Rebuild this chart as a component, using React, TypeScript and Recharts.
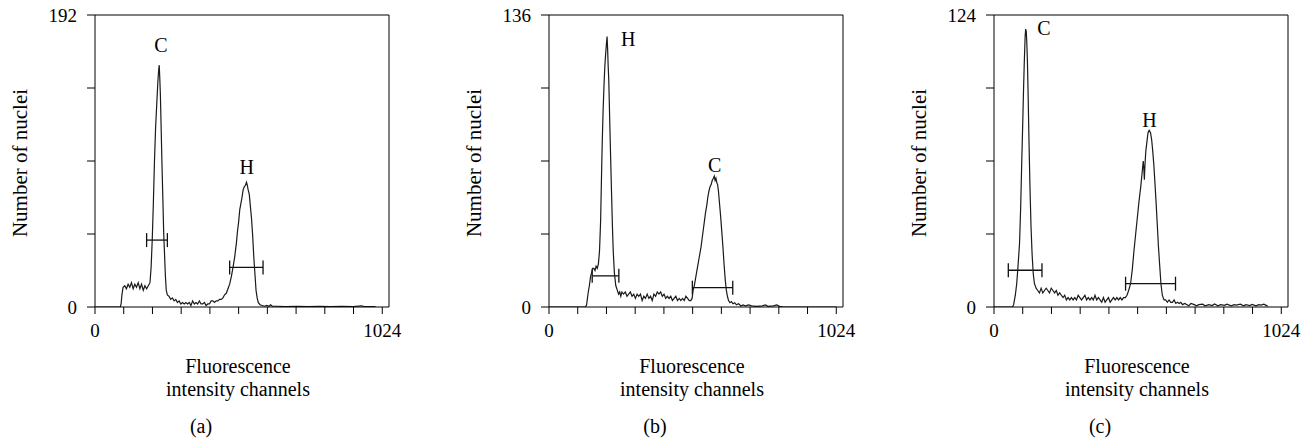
import { LineChart, Line, XAxis, YAxis, ReferenceLine, ReferenceDot } from 'recharts';

const FONT = "'Liberation Serif', 'Times New Roman', serif";
const X_MAX = 1048;
const PLOT_H = 292;
const CAP_PX = 7;

const xTicks = [0, 102.4, 204.8, 307.2, 409.6, 512, 614.4, 716.8, 819.2, 921.6, 1024];

// (a) channel, nuclei count
const histA: [number, number][] = [
  [0, 0], [90, 0], [93, 2], [96, 8], [100, 13], [106, 14], [112, 12], [118, 15], [124, 13], [130, 16],
  [136, 12], [142, 15], [148, 13], [154, 16], [160, 12], [166, 15], [172, 11], [178, 14], [184, 12], [190, 14],
  [196, 16], [200, 26], [204, 44], [208, 68], [212, 96], [216, 118], [220, 133], [224, 148], [227, 156], [229, 159],
  [231, 150], [233, 140], [236, 116], [239, 92], [242, 70], [245, 48], [248, 34], [251, 20], [254, 11], [258, 8],
  [264, 7], [270, 5], [276, 6], [282, 4], [288, 5], [294, 3], [300, 4], [306, 2], [312, 3], [318, 2],
  [324, 3], [330, 2], [336, 3], [342, 1], [348, 4], [354, 2], [360, 3], [366, 2], [372, 4], [378, 2],
  [384, 2], [390, 3], [396, 1], [402, 2], [408, 2], [414, 4], [420, 4], [426, 3], [432, 4], [438, 4],
  [444, 5], [450, 5], [456, 6], [462, 8], [468, 9], [474, 12], [480, 15], [486, 20], [492, 26], [498, 33],
  [504, 42], [508, 50], [512, 56], [516, 64], [520, 68], [524, 72], [528, 77], [532, 79], [536, 80], [540, 82],
  [543, 80], [546, 77], [550, 74], [554, 66], [558, 58], [562, 47], [566, 33], [570, 22], [574, 11], [578, 6],
  [582, 3], [588, 1.5], [596, 1], [604, 0.5], [612, 1], [620, 0.5], [626, 1.5], [632, 0.5], [650, 0.5], [680, 0.3],
  [720, 0.5], [760, 0.3], [800, 0.4], [840, 0.3], [880, 0.4], [920, 0.3], [950, 0.8], [960, 0.3], [1000, 0.2],
];
const yTicksA = [0, 48, 96, 144, 192];
const gatesA: [number, number, number][] = [[184, 258, 44], [480, 599, 26]];
const peaksA: [string, number, number][] = [['C', 235, 172], ['H', 541, 92]];

// (b)
const histB: [number, number][] = [
  [0, 0], [130, 0], [134, 1], [136, 3], [140, 7], [144, 10], [148, 14], [152, 16], [156, 18], [160, 18],
  [164, 17], [168, 19], [172, 18], [176, 20], [180, 26], [184, 40], [187, 60], [190, 78], [193, 92], [196, 103],
  [199, 112], [202, 118], [205, 123], [207, 126], [209, 120], [211, 112], [213, 106], [215, 95], [217, 84], [220, 68],
  [223, 53], [226, 38], [229, 26], [233, 16], [238, 10], [243, 8], [248, 6], [252, 7], [256, 5], [260, 7],
  [266, 6], [272, 7], [278, 5], [284, 6], [290, 7], [296, 5], [302, 6], [308, 4], [314, 6], [320, 5],
  [326, 6], [332, 3], [338, 5], [344, 4], [350, 6], [356, 4], [362, 5], [368, 3], [374, 6], [380, 5],
  [386, 7], [392, 6], [398, 7], [404, 5], [410, 6], [416, 4], [422, 5], [428, 4], [434, 5], [440, 3],
  [446, 4], [452, 5], [458, 3], [464, 4], [470, 3], [476, 4], [482, 3], [488, 5], [494, 4], [500, 3],
  [505, 3], [510, 4], [514, 8], [518, 10], [522, 13], [526, 16], [530, 19], [534, 22], [538, 25], [542, 28],
  [546, 32], [550, 36], [554, 40], [558, 44], [562, 47], [566, 51], [570, 54], [574, 56], [578, 57], [582, 59],
  [586, 60], [589, 61], [592, 59], [595, 60], [598, 58], [601, 57], [604, 54], [608, 48], [612, 42], [616, 35],
  [620, 28], [624, 20], [628, 13], [632, 8], [636, 5], [640, 3], [645, 2], [650, 2.5], [656, 1.5], [662, 2],
  [668, 1], [676, 1.5], [684, 0.5], [692, 1], [700, 0.5], [712, 1], [722, 0.5], [740, 0.3], [760, 0.5], [772, 1],
  [780, 0.3], [800, 0.5], [812, 1], [822, 0.3], [836, 0], [1024, 0],
];
const yTicksB = [0, 34, 68, 102, 136];
const gatesB: [number, number, number][] = [[154, 249, 14.5], [511, 655, 9]];
const peaksB: [string, number, number][] = [['H', 282, 125], ['C', 591, 66]];

// (c)
const histC: [number, number][] = [
  [0, 0], [66, 0], [70, 1], [76, 5], [81, 10], [86, 18], [91, 27], [95, 42], [99, 62], [102, 76],
  [105, 91], [108, 104], [111, 115], [113, 118], [115, 117], [117, 112], [119, 105], [122, 88], [125, 69], [128, 52],
  [132, 34], [136, 22], [140, 14], [144, 10], [150, 8], [156, 7], [162, 6], [168, 8], [174, 6], [180, 7],
  [186, 8], [192, 7], [198, 6], [204, 8], [210, 7], [216, 6], [222, 7], [228, 5], [234, 6], [240, 5],
  [246, 4], [252, 5], [258, 3], [264, 4], [270, 3], [276, 4], [282, 3], [288, 4], [294, 3], [300, 5],
  [306, 4], [312, 3], [318, 4], [324, 5], [330, 3], [336, 4], [342, 3], [348, 4], [354, 3], [360, 5],
  [366, 3], [372, 4], [378, 3], [384, 2], [390, 4], [396, 2], [402, 3], [408, 4], [414, 2], [420, 3],
  [426, 4], [432, 3], [438, 4], [444, 3], [450, 4], [456, 3], [462, 4], [468, 4], [474, 5], [480, 7],
  [487, 10], [493, 16], [499, 24], [505, 31], [511, 38], [517, 45], [523, 51], [528, 57], [532, 62], [534, 59],
  [536, 54], [538, 60], [541, 66], [545, 70], [549, 74], [553, 75], [558, 74], [562, 71], [566, 66], [570, 60],
  [574, 52], [578, 44], [582, 35], [586, 26], [591, 17], [595, 10], [600, 5], [606, 3], [612, 3], [618, 2],
  [624, 3], [630, 2], [636, 2], [642, 3], [648, 1.5], [654, 2], [660, 1.5], [666, 2], [672, 1], [680, 1.5],
  [688, 1], [694, 0.5], [702, 1.5], [714, 1], [722, 0.5], [730, 1], [744, 1.2], [752, 0.5], [766, 1], [778, 0.6],
  [786, 1.3], [798, 0.5], [808, 1], [822, 0.7], [830, 1.2], [846, 0.5], [856, 1], [864, 0.8], [878, 1.2], [890, 0.5],
  [898, 1], [912, 0.6], [920, 1.1], [934, 0.5], [944, 1], [952, 0.8], [962, 1.2], [970, 0.7], [976, 0.3],
];
const yTicksC = [0, 31, 62, 93, 124];
const gatesC: [number, number, number][] = [[51, 171, 15.6], [469, 647, 9.9]];
const peaksC: [string, number, number][] = [['C', 178, 118.4], ['H', 554, 79.4]];

const textStyle = { fontFamily: FONT, fill: '#000' };
const TITLE_SIZE = 20;

const xTitle = (sub: string) => (props: any) => {
  const vb = props.viewBox || {};
  const x0 = vb.x ?? 95;
  const y0 = vb.y ?? 307;
  return (
    <g>
      <text x={x0 + 143} y={y0 + 66} textAnchor="middle" fontSize={TITLE_SIZE} style={textStyle}>Fluorescence</text>
      <text x={x0 + 143} y={y0 + 89} textAnchor="middle" fontSize={TITLE_SIZE} style={textStyle}>intensity channels</text>
      <text x={x0 + 106} y={y0 + 126} textAnchor="middle" fontSize={TITLE_SIZE} style={textStyle}>{sub}</text>
    </g>
  );
};

const yTitle = (props: any) => {
  const vb = props.viewBox || {};
  const ax = (vb.x ?? 35) + (vb.width ?? 60);
  const cx = ax - 75;
  const cy = (vb.y ?? 15) + (vb.height ?? PLOT_H) / 2 + 2;
  return (
    <text x={cx} y={cy} transform={`rotate(-90, ${cx}, ${cy})`} textAnchor="middle" dominantBaseline="central" fontSize={21} style={textStyle}>
      Number of nuclei
    </text>
  );
};

type PanelProps = {
  hist: [number, number][];
  yTicks: number[];
  gates: [number, number, number][];
  peaks: [string, number, number][];
  sub: string;
  left: number;
};

function Panel({ hist, yTicks, gates, peaks, sub, left }: PanelProps) {
  const data = hist.map(([ch, n]) => ({ ch, n }));
  const yMax = yTicks[yTicks.length - 1];
  const cap = (yMax * CAP_PX) / PLOT_H;
  const tick = { fill: '#000', fontSize: 19, fontFamily: FONT };
  return (
    <div style={{ position: 'absolute', left, top: 0 }}>
      <LineChart width={430} height={442} data={data} margin={{ top: 15, right: 41, bottom: 95, left: 35 }}>
        <XAxis
          dataKey="ch"
          type="number"
          domain={[0, X_MAX]}
          ticks={xTicks}
          interval={0}
          allowDataOverflow
          tickFormatter={(v: number) => (v === 0 || v === 1024 ? String(v) : '')}
          tickSize={7}
          tickMargin={10}
          tick={tick}
          axisLine={{ stroke: '#000' }}
          tickLine={{ stroke: '#000' }}
          height={40}
          label={{ content: xTitle(sub) }}
        />
        <YAxis
          type="number"
          domain={[0, yMax]}
          ticks={yTicks}
          interval={0}
          allowDataOverflow
          tickFormatter={(v: number) => (v === 0 || v === yMax ? String(v) : '')}
          tickSize={8}
          tickMargin={10}
          tick={tick}
          axisLine={{ stroke: '#000' }}
          tickLine={{ stroke: '#000' }}
          width={60}
          label={{ content: yTitle }}
        />
        <ReferenceLine y={yMax} stroke="#000" ifOverflow="visible" />
        <ReferenceLine x={X_MAX} stroke="#000" ifOverflow="visible" />
        {gates.map(([a, b, lvl], i) => (
          <ReferenceLine key={`g${i}`} segment={[{ x: a, y: lvl }, { x: b, y: lvl }]} stroke="#111" strokeWidth={1.3} ifOverflow="visible" />
        ))}
        {gates.map(([a, , lvl], i) => (
          <ReferenceLine key={`ga${i}`} segment={[{ x: a, y: lvl - cap }, { x: a, y: lvl + cap }]} stroke="#111" strokeWidth={1.3} ifOverflow="visible" />
        ))}
        {gates.map(([, b, lvl], i) => (
          <ReferenceLine key={`gb${i}`} segment={[{ x: b, y: lvl - cap }, { x: b, y: lvl + cap }]} stroke="#111" strokeWidth={1.3} ifOverflow="visible" />
        ))}
        <Line dataKey="n" type="linear" stroke="#1a1a1a" strokeWidth={1.2} dot={false} activeDot={false} isAnimationActive={false} />
        {peaks.map(([name, ch, lvl]) => (
          <ReferenceDot
            key={name}
            x={ch}
            y={lvl}
            r={0}
            ifOverflow="visible"
            shape={(p: any) => (
              <text x={p.cx} y={p.cy} textAnchor="middle" dominantBaseline="central" fontSize={20} style={textStyle}>
                {name}
              </text>
            )}
          />
        ))}
      </LineChart>
    </div>
  );
}

export default function App() {
  return (
    <div style={{ position: 'absolute', left: 0, top: 0, width: 1310, height: 442, background: '#fff' }}>
      <Panel hist={histA} yTicks={yTicksA} gates={gatesA} peaks={peaksA} sub="(a)" left={0} />
      <Panel hist={histB} yTicks={yTicksB} gates={gatesB} peaks={peaksB} sub="(b)" left={454} />
      <Panel hist={histC} yTicks={yTicksC} gates={gatesC} peaks={peaksC} sub="(c)" left={899} />
    </div>
  );
}
